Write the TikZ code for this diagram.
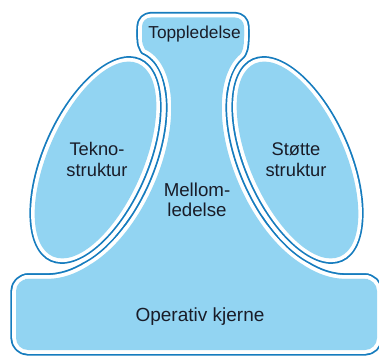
\documentclass[tikz,border=0pt]{standalone}
\usepackage{fontspec}
\setmainfont{Liberation Sans}
\definecolor{lightfill}{RGB}{146,212,242}
\definecolor{edgeblue}{RGB}{22,124,190}
\definecolor{txt}{RGB}{25,28,40}
% clip to the outside of a (grown) rotated ellipse (used inside an even-odd scope)
\newcommand\holeclip[4]{\clip[rotate around={#3:(#1,#2)}]
  (#1-700,#2-700) -- (#1-700,#2+700) -- (#1+700,#2+700) -- (#1+700,#2-700) -- cycle
  (#1,#2) ellipse [x radius=105.5+#4, y radius=47.5+#4];}
% filled (grown) rotated ellipse
\newcommand\ellfill[5]{\fill[#5,rotate around={#3:(#1,#2)}]
  (#1,#2) ellipse [x radius=105.5+#4, y radius=47.5+#4];}
% the parts whose union forms the central shape (before the ellipses are cut out)
\newcommand\centralparts[1]{%
  \path[#1,rounded corners=9pt] (142,313) rectangle (244,340.5);
  \path[#1] (25,68) -- (25,79) -- (45,79) .. controls (62,79) and (75,84) .. (88,92)
     .. controls (100,100) and (114,118) .. (122,133) -- (140,198) -- (150,248)
     -- (163,274) .. controls (161,286) and (158,294) .. (152,301)
     .. controls (146,307) and (142,310) .. (142,320) -- (142,328) -- (244,328)
     -- (244,320) .. controls (244,312) and (243,306) .. (239,302)
     .. controls (235,294) and (232,286) .. (230,274) -- (243,248) -- (253,198)
     -- (271,133) .. controls (279,118) and (293,100) .. (305,92)
     .. controls (318,84) and (331,79) .. (348,79) -- (368,79) -- (368,68) -- cycle;
  \path[#1,rounded corners=12pt] (16,8) rectangle (377,79);}
\newcommand\cutlayer[2]{%
  \begin{scope}[even odd rule]
    \holeclip{95.5}{198}{66.2}{#1}
    \begin{scope}[even odd rule]
      \holeclip{297.5}{198}{113.8}{#1}
      \centralparts{#2}
    \end{scope}
  \end{scope}}
\begin{document}
\begin{tikzpicture}[x=1pt,y=1pt,
  lbl/.style={text=txt, align=center, inner sep=0pt}]
\useasboundingbox (0,0) rectangle (379,358);
% central shape: outline, white gap, fill
\cutlayer{10.1}{draw=edgeblue,fill=edgeblue,line width=11.2pt,line join=round}
\cutlayer{11.9}{draw=white,fill=white,line width=7.6pt,line join=round}
\cutlayer{15.7}{fill=lightfill}
% left ellipse
\ellfill{95.5}{198}{66.2}{5.6}{edgeblue}
\ellfill{95.5}{198}{66.2}{3.8}{white}
\ellfill{95.5}{198}{66.2}{0}{lightfill}
% right ellipse
\ellfill{297.5}{198}{113.8}{5.6}{edgeblue}
\ellfill{297.5}{198}{113.8}{3.8}{white}
\ellfill{297.5}{198}{113.8}{0}{lightfill}
% labels
\node[lbl, font=\fontsize{17.3}{20}\selectfont, anchor=base] (top) at (194.5,319) {Toppledelse};
\node[lbl, font=\fontsize{18.3}{21}\selectfont] (tekno) at (97,199) {Tekno-\\struktur};
\node[lbl, font=\fontsize{18.3}{21}\selectfont] (stotte) at (296,198.5) {Støtte\\struktur};
\node[lbl, font=\fontsize{18.7}{20}\selectfont] (mellom) at (197,158) {Mellom-\\ledelse};
\node[lbl, font=\fontsize{19}{22}\selectfont, anchor=base] (kjerne) at (200,37) {Operativ kjerne};
\end{tikzpicture}
\end{document}
